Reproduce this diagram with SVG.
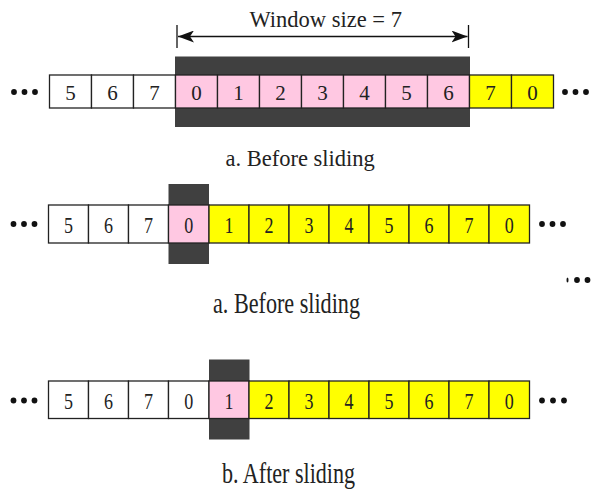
<svg xmlns="http://www.w3.org/2000/svg" width="592" height="489" viewBox="0 0 592 489">
<defs>
<style>
.c{stroke:#222;stroke-width:1.3}
.w{fill:#fff}
.p{fill:#ffc8e2}
.y{fill:#ffff00}
.dk{fill:#404040}
.t1{font-family:"Liberation Serif",serif;font-size:21px;fill:#222;text-anchor:middle}
.t2{font-family:"Liberation Serif",serif;font-size:24px;fill:#222;text-anchor:middle}
.lb{font-family:"Liberation Serif",serif;font-size:22.5px;fill:#222}
.lb2{font-family:"Liberation Serif",serif;font-size:29px;fill:#222}
.dot{fill:#111}
.ln{stroke:#111;stroke-width:1.3;fill:none}
</style>
<marker id="ah" viewBox="0 0 16 12" refX="16" refY="6" markerWidth="16" markerHeight="12" markerUnits="userSpaceOnUse" orient="auto-start-reverse">
<path d="M0,0 L16,6 L0,12 L4,6 Z" fill="#111"/>
</marker>
</defs>

<g id="row1">
<rect class="dk" x="175" y="56.5" width="295" height="70.5"/>
<g id="r1cells">
<rect class="c w" x="49.5" y="75" width="42" height="33"/>
<rect class="c w" x="91.5" y="75" width="42" height="33"/>
<rect class="c w" x="133.5" y="75" width="42" height="33"/>
<rect class="c p" x="175.5" y="75" width="42" height="33"/>
<rect class="c p" x="217.5" y="75" width="42" height="33"/>
<rect class="c p" x="259.5" y="75" width="42" height="33"/>
<rect class="c p" x="301.5" y="75" width="42" height="33"/>
<rect class="c p" x="343.5" y="75" width="42" height="33"/>
<rect class="c p" x="385.5" y="75" width="42" height="33"/>
<rect class="c p" x="427.5" y="75" width="42" height="33"/>
<rect class="c y" x="469.5" y="75" width="42" height="33"/>
<rect class="c y" x="511.5" y="75" width="42" height="33"/>
</g>
<g class="t1">
<text x="70.5" y="99.5">5</text><text x="112.5" y="99.5">6</text><text x="154.5" y="99.5">7</text>
<text x="196.5" y="99.5">0</text><text x="238.5" y="99.5">1</text><text x="280.5" y="99.5">2</text>
<text x="322.5" y="99.5">3</text><text x="364.5" y="99.5">4</text><text x="406.5" y="99.5">5</text>
<text x="448.5" y="99.5">6</text><text x="490.5" y="99.5">7</text><text x="532.5" y="99.5">0</text>
</g>
<circle class="dot" cx="14" cy="92" r="2.9"/><circle class="dot" cx="24.5" cy="92" r="2.9"/><circle class="dot" cx="35" cy="92" r="2.9"/>
<circle class="dot" cx="565" cy="92" r="2.9"/><circle class="dot" cx="575.5" cy="92" r="2.9"/><circle class="dot" cx="586" cy="92" r="2.9"/>
<text class="lb" x="225.5" y="166">a. Before sliding</text>
</g>

<g id="connectors">
<line class="ln" x1="177" y1="25" x2="177" y2="48"/>
<line class="ln" x1="468.5" y1="25" x2="468.5" y2="48"/>
<line class="ln" x1="178" y1="36.5" x2="467.5" y2="36.5" marker-start="url(#ah)" marker-end="url(#ah)"/>
</g>
<text id="winlabel" class="lb" x="249.5" y="27">Window size = 7</text>

<g id="row2">
<rect class="dk" x="168.5" y="184" width="40.5" height="80"/>
<rect class="c w" x="48.5" y="205" width="40" height="38"/>
<rect class="c w" x="88.5" y="205" width="40" height="38"/>
<rect class="c w" x="128.5" y="205" width="40" height="38"/>
<rect class="c p" x="168.5" y="205" width="40.5" height="38"/>
<rect class="c y" x="209" y="205" width="40" height="38"/>
<rect class="c y" x="249" y="205" width="40" height="38"/>
<rect class="c y" x="289" y="205" width="40" height="38"/>
<rect class="c y" x="329" y="205" width="40" height="38"/>
<rect class="c y" x="369" y="205" width="40" height="38"/>
<rect class="c y" x="409" y="205" width="40" height="38"/>
<rect class="c y" x="449" y="205" width="40" height="38"/>
<rect class="c y" x="489" y="205" width="40.5" height="38"/>
<g class="t2">
<text transform="translate(68.5 233) scale(0.75 1)">5</text>
<text transform="translate(108.5 233) scale(0.75 1)">6</text>
<text transform="translate(148.5 233) scale(0.75 1)">7</text>
<text transform="translate(188.8 233) scale(0.75 1)">0</text>
<text transform="translate(229 233) scale(0.75 1)">1</text>
<text transform="translate(269 233) scale(0.75 1)">2</text>
<text transform="translate(309 233) scale(0.75 1)">3</text>
<text transform="translate(349 233) scale(0.75 1)">4</text>
<text transform="translate(389 233) scale(0.75 1)">5</text>
<text transform="translate(429 233) scale(0.75 1)">6</text>
<text transform="translate(469 233) scale(0.75 1)">7</text>
<text transform="translate(509.3 233) scale(0.75 1)">0</text>
</g>
<circle class="dot" cx="13.5" cy="224" r="2.9"/><circle class="dot" cx="24" cy="224" r="2.9"/><circle class="dot" cx="34.5" cy="224" r="2.9"/>
<circle class="dot" cx="542" cy="224" r="2.9"/><circle class="dot" cx="552.5" cy="224" r="2.9"/><circle class="dot" cx="563" cy="224" r="2.9"/>
<ellipse class="dot" cx="567.5" cy="280" rx="1" ry="2.6"/><circle class="dot" cx="577" cy="280" r="2.9"/><circle class="dot" cx="587.5" cy="280" r="2.9"/>
<text class="lb2" x="213" y="313" textLength="147" lengthAdjust="spacingAndGlyphs">a. Before sliding</text>
</g>

<g id="row3">
<rect class="dk" x="209" y="359.5" width="40.5" height="80"/>
<rect class="c w" x="48.5" y="381" width="40" height="37.5"/>
<rect class="c w" x="88.5" y="381" width="40" height="37.5"/>
<rect class="c w" x="128.5" y="381" width="40" height="37.5"/>
<rect class="c w" x="168.5" y="381" width="40.5" height="37.5"/>
<rect class="c p" x="209" y="381" width="40" height="37.5"/>
<rect class="c y" x="249" y="381" width="40" height="37.5"/>
<rect class="c y" x="289" y="381" width="40" height="37.5"/>
<rect class="c y" x="329" y="381" width="40" height="37.5"/>
<rect class="c y" x="369" y="381" width="40" height="37.5"/>
<rect class="c y" x="409" y="381" width="40" height="37.5"/>
<rect class="c y" x="449" y="381" width="40" height="37.5"/>
<rect class="c y" x="489" y="381" width="40.5" height="37.5"/>
<g class="t2">
<text transform="translate(68.5 408.5) scale(0.75 1)">5</text>
<text transform="translate(108.5 408.5) scale(0.75 1)">6</text>
<text transform="translate(148.5 408.5) scale(0.75 1)">7</text>
<text transform="translate(188.8 408.5) scale(0.75 1)">0</text>
<text transform="translate(229 408.5) scale(0.75 1)">1</text>
<text transform="translate(269 408.5) scale(0.75 1)">2</text>
<text transform="translate(309 408.5) scale(0.75 1)">3</text>
<text transform="translate(349 408.5) scale(0.75 1)">4</text>
<text transform="translate(389 408.5) scale(0.75 1)">5</text>
<text transform="translate(429 408.5) scale(0.75 1)">6</text>
<text transform="translate(469 408.5) scale(0.75 1)">7</text>
<text transform="translate(509.3 408.5) scale(0.75 1)">0</text>
</g>
<circle class="dot" cx="13.5" cy="400.5" r="2.9"/><circle class="dot" cx="24" cy="400.5" r="2.9"/><circle class="dot" cx="34.5" cy="400.5" r="2.9"/>
<circle class="dot" cx="542" cy="400.5" r="2.9"/><circle class="dot" cx="553" cy="400.5" r="2.9"/><circle class="dot" cx="564" cy="400.5" r="2.9"/>
<text class="lb2" x="222" y="483" textLength="133" lengthAdjust="spacingAndGlyphs">b. After sliding</text>
</g>
</svg>
